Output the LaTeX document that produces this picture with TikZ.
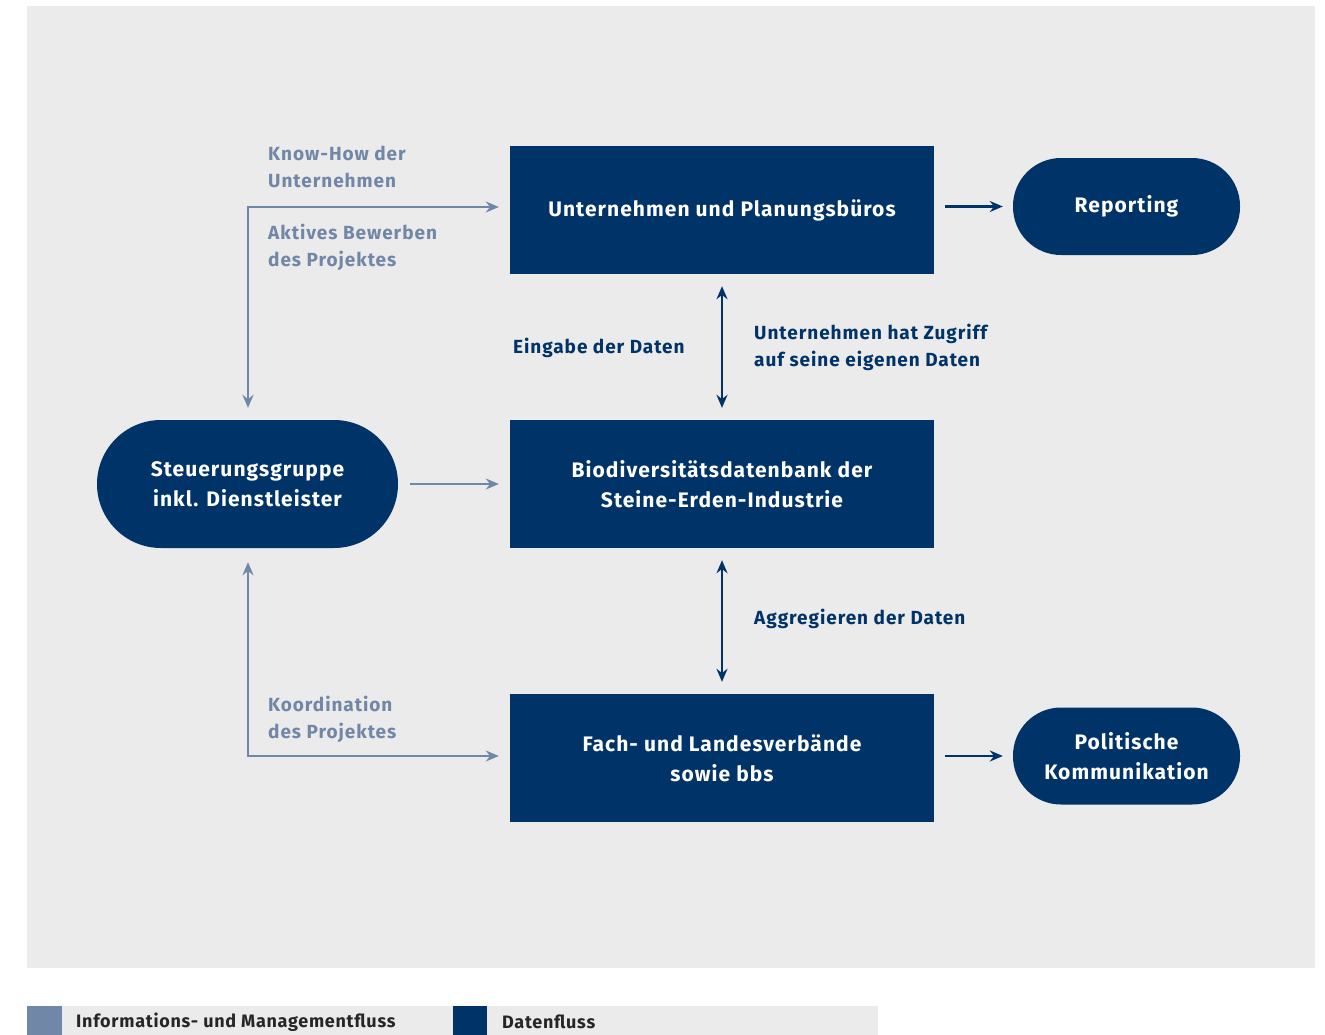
\documentclass[tikz,border=0pt]{standalone}
\usepackage{fontspec}
\setmainfont{Fira Sans}
\usetikzlibrary{arrows.meta, positioning}

\definecolor{navy}{RGB}{0,51,104}
\definecolor{infoblue}{RGB}{112,135,168}
\definecolor{panel}{RGB}{235,235,235}

\tikzset{
  box/.style = {draw=none, fill=navy, text=white, minimum width=424pt, minimum height=128pt, align=center, font=\bfseries\fontsize{21}{30}\selectfont\addfontfeatures{LetterSpace=5}},
  pill/.style = {draw=none, fill=navy, text=white, rounded corners=48pt, minimum width=227pt, minimum height=97pt, align=center, font=\bfseries\fontsize{21}{30}\selectfont\addfontfeatures{LetterSpace=5}},
  datenpfeil/.style = {draw=navy, line width=2.8pt, -{Stealth[length=13pt, width=11pt]}},
  infopfeil/.style = {draw=infoblue, line width=2.8pt, -{Stealth[length=13pt, width=11pt]}},
  infotext/.style = {text=infoblue, anchor=west, align=left, font=\bfseries\fontsize{19}{27}\selectfont\addfontfeatures{LetterSpace=5}, inner sep=0pt},
  datentext/.style = {text=navy, anchor=west, align=left, font=\bfseries\fontsize{19}{27}\selectfont\addfontfeatures{LetterSpace=5}, inner sep=0pt}
}

\begin{document}
\begin{tikzpicture}[x=1pt, y=-1pt]
  \useasboundingbox (0,0) rectangle (1325,1034);
  \fill[panel] (27,6) rectangle (1315,968);

  % Kaesten
  \node[box] (unternehmen) at (722,210) {Unternehmen und Planungsbüros};
  \node[box] (datenbank) at (722,484) {Biodiversitätsdatenbank der\\Steine-Erden-Industrie};
  \node[box] (verbaende) at (722,758) {Fach- und Landesverbände\\sowie bbs};
  \node[pill] (reporting) at (1126.5,206.5) {Reporting};
  \node[pill] (politik) at (1126.5,756) {Politische\\Kommunikation};
  \node[pill, rounded corners=64pt, minimum width=301pt, minimum height=128pt] (steuerung) at (247.5,484) {Steuerungsgruppe\\inkl. Dienstleister};

  % Datenfluss
  \draw[datenpfeil] ([xshift=11pt]unternehmen.east |- reporting.west) -- ([xshift=-10pt]reporting.west);
  \draw[datenpfeil] ([xshift=11pt]verbaende.east |- politik.west) -- ([xshift=-10pt]politik.west);
  \draw[datenpfeil, {Stealth[length=13pt, width=11pt]}-{Stealth[length=13pt, width=11pt]}, shorten <=12pt, shorten >=12pt] (unternehmen.south) -- (datenbank.north);
  \draw[datenpfeil, {Stealth[length=13pt, width=11pt]}-{Stealth[length=13pt, width=11pt]}, shorten <=12pt, shorten >=12pt] (datenbank.south) -- (verbaende.north);

  % Informationsfluss
  \draw[infopfeil, shorten <=12pt, shorten >=11pt] (steuerung.east) -- (datenbank.west);
  \draw[infopfeil, {Stealth[length=13pt, width=11pt]}-{Stealth[length=13pt, width=11pt]}, shorten <=12pt, shorten >=11pt] ([xshift=0.5pt]steuerung.north) |- ([yshift=3pt]unternehmen.west);
  \draw[infopfeil, {Stealth[length=13pt, width=11pt]}-{Stealth[length=13pt, width=11pt]}, shorten <=14pt, shorten >=11pt] ([xshift=0.5pt]steuerung.south) |- ([yshift=2pt]verbaende.west);

  % Beschriftungen
  \node[infotext] (knowhow) at (268,167) {Know-How der\\Unternehmen};
  \node[infotext] (bewerben) at (268,247) {Aktives Bewerben\\des Projektes};
  \node[infotext] (koordination) at (268,719) {Koordination\\des Projektes};
  \node[datentext] (eingabe) at (513,348) {Eingabe der Daten};
  \node[datentext] (zugriff) at (754,347) {Unternehmen hat Zugriff\\auf seine eigenen Daten};
  \node[datentext] (aggregieren) at (754,619) {Aggregieren der Daten};

  % Legende
  \fill[panel] (27,1006) rectangle (878,1040);
  \fill[infoblue] (27,1006) rectangle (62,1040);
  \fill[navy] (453,1006) rectangle (487,1040);
  \node[datentext, text=black!85, font=\bfseries\fontsize{18}{22}\selectfont\addfontfeatures{LetterSpace=4}] (infofluss) at (76,1022) {Informations- und Managementfluss};
  \node[datentext, text=black!85, font=\bfseries\fontsize{18}{22}\selectfont\addfontfeatures{LetterSpace=4}] (datenfluss) at (502,1022) {Datenfluss};
\end{tikzpicture}
\end{document}
